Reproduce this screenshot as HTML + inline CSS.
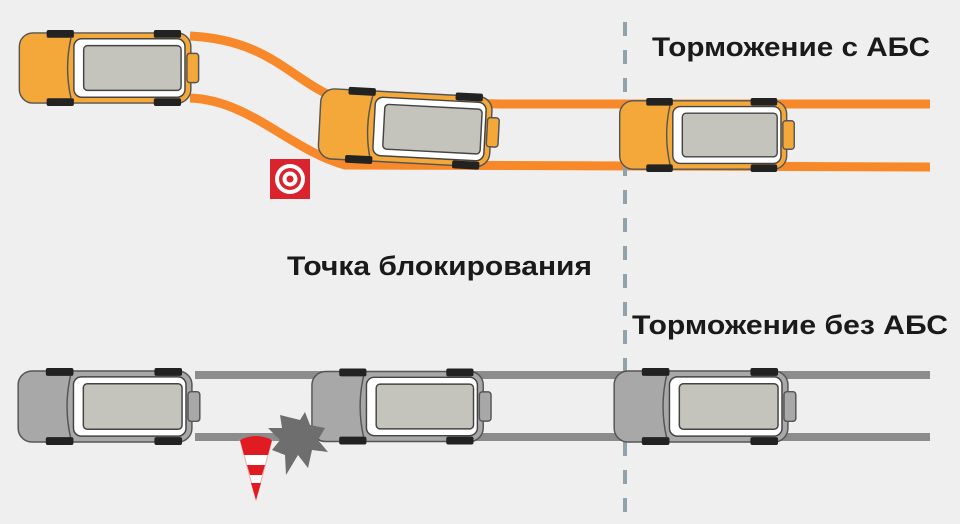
<!DOCTYPE html>
<html><head><meta charset="utf-8"><style>
html,body{margin:0;padding:0;background:#efefef;}
svg{display:block}
text{font-family:"Liberation Sans",sans-serif;font-weight:bold;fill:#1a1a1a}
</style></head><body>
<svg width="960" height="524" viewBox="0 0 960 524" xmlns="http://www.w3.org/2000/svg">
<defs>
<symbol id="car" viewBox="0 0 187 78" overflow="visible">
  <rect x="2" y="3" width="176" height="72" rx="14" fill="var(--c)" stroke="#555" stroke-width="1.5"/>
  <rect x="174" y="24" width="12" height="30" rx="3" fill="var(--c)" stroke="#555" stroke-width="1.5"/>
  <rect x="58" y="9" width="114" height="60" rx="8" fill="#fff" stroke="#444" stroke-width="1.5"/>
  <rect x="68" y="16" width="100" height="46" rx="4" fill="#c4c4bc" stroke="#444" stroke-width="1.5"/>
  <path d="M55 8 Q48 39 55 70" fill="none" stroke="#555" stroke-width="1.5"/>
  <rect x="30" y="0" width="28" height="8" rx="2" fill="#222"/>
  <rect x="140" y="0" width="28" height="8" rx="2" fill="#222"/>
  <rect x="30" y="70" width="28" height="8" rx="2" fill="#222"/>
  <rect x="140" y="70" width="28" height="8" rx="2" fill="#222"/>
</symbol>
</defs>
<g fill="none" stroke="#f7892a" stroke-width="9">
  <path d="M190 36 C270 40 290 80 340 100 L500 104 L930 104"/>
  <path d="M190 98 C250 100 290 150 345 165 L930 167"/>
</g>
<g fill="none" stroke="#8c8c8c" stroke-width="8">
  <path d="M195 375 L930 375"/>
  <path d="M195 437 L930 437"/>
</g>
<line x1="625" y1="22" x2="625" y2="524" stroke="#8fa3aa" stroke-width="4" stroke-dasharray="14 14"/>
<use href="#car" x="15" y="30" width="187" height="76" style="--c:#f4a83a"/>
<g transform="rotate(3 410 130)"><use href="#car" x="315" y="90" width="187" height="76" style="--c:#f4a83a"/></g>
<use href="#car" x="613" y="98" width="187" height="74" style="--c:#f4a83a"/>
<use href="#car" x="15" y="368" width="187" height="77" style="--c:#a8a8a8"/>
<use href="#car" x="310" y="368" width="182" height="77" style="--c:#a8a8a8"/>
<use href="#car" x="612" y="368" width="185" height="77" style="--c:#a8a8a8"/>
<rect x="270" y="159" width="40" height="40" fill="#d9232e"/>
<circle cx="290" cy="179" r="15" fill="#fff"/>
<circle cx="290" cy="179" r="11" fill="#d9232e"/>
<circle cx="290" cy="179" r="7.5" fill="#fff"/>
<circle cx="290" cy="179" r="3.5" fill="#d9232e"/>
<polygon points="280,415 300,420 305,412 310,425 325,428 318,440 328,452 312,450 308,468 298,455 286,475 285,455 272,450 280,440 268,428 282,428" fill="#6e6e6e"/>
<polygon points="240,440 272,440 256,500" fill="#fff" stroke="#e8b0b0" stroke-width="1"/>
<path d="M240 440 Q256 432 272 440 L268 455 L244 455 Z" fill="#e11b22"/>
<polygon points="247,465 265,465 262,475 250,475" fill="#e11b22"/>
<polygon points="251,483 261,483 256,500" fill="#e11b22"/>
<text x="652" y="56" font-size="27" textLength="278" lengthAdjust="spacingAndGlyphs">Торможение с АБС</text>
<text x="287" y="275" font-size="27" textLength="305" lengthAdjust="spacingAndGlyphs">Точка блокирования</text>
<text x="632" y="334" font-size="27" textLength="316" lengthAdjust="spacingAndGlyphs">Торможение без АБС</text>
</svg>
</body></html>
